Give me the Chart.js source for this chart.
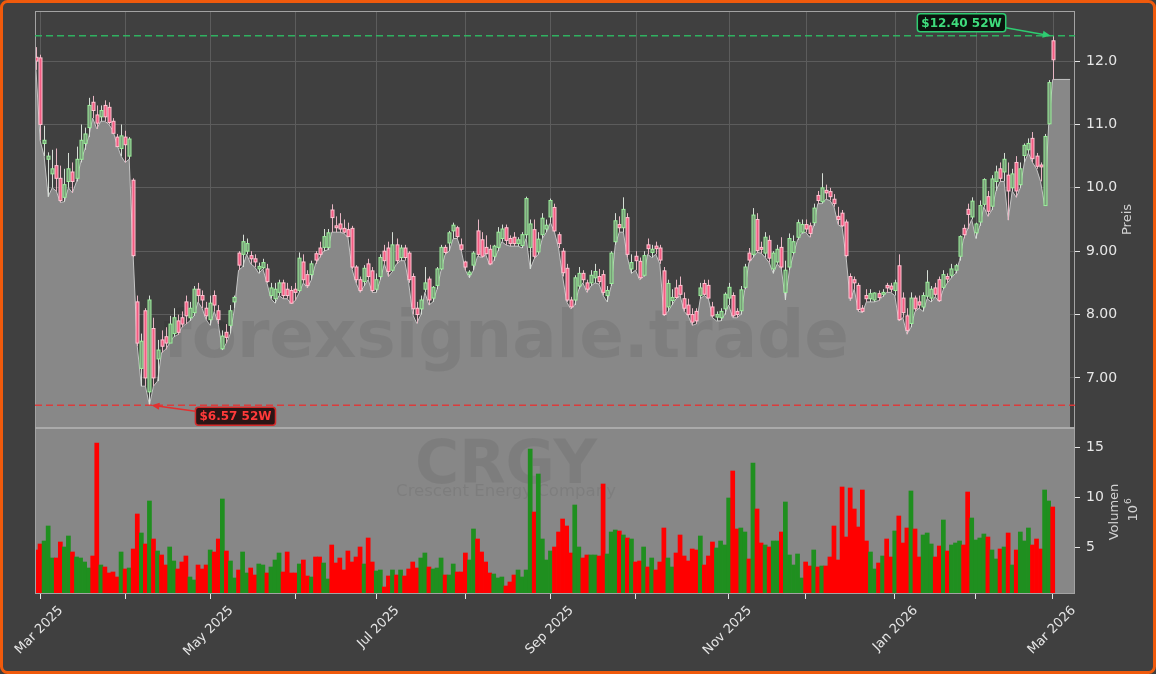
<!DOCTYPE html>
<html>
<head>
<meta charset="utf-8">
<script src="https://cdn.jsdelivr.net/npm/chart.js@4.4.1/dist/chart.umd.min.js"></script>
<style>
  html, body { margin: 0; padding: 0; background: #404040; }
  canvas { display: block; }
</style>
</head>
<body>
<canvas id="chart" width="1156" height="674"></canvas>
<script>
// CRGY Tageskerzen, 28.02.2025 bis 02.03.2026
var open = [
  12.06, 12.05, 10.7, 10.45, 10.22, 10.35, 10.15, 9.85, 10.1, 10.25,
  10.15, 10.45, 10.7, 10.95, 11.35, 11.15, 11.12, 11.3, 11.27, 11.05,
  10.8, 10.62, 10.8, 10.5, 10.12, 8.2, 7.15, 8.06, 6.78, 7.78,
  7.3, 7.6, 7.65, 7.55, 7.7, 7.9, 7.95, 8.2, 7.95, 8.03,
  8.4, 8.3, 8.1, 7.92, 8.3, 8.06, 7.46, 7.72, 7.83, 8.2,
  8.97, 8.95, 9.0, 8.93, 8.88, 8.72, 8.74, 8.72, 8.3, 8.25,
  8.35, 8.5, 8.4, 8.38, 8.4, 8.38, 8.83, 8.63, 8.63, 8.96,
  9.05, 9.06, 9.06, 9.65, 9.4, 9.43, 9.36, 9.34, 9.36, 8.75,
  8.55, 8.52, 8.8, 8.69, 8.4, 8.6, 9.0, 9.05, 8.7, 9.1,
  8.9, 9.05, 8.97, 8.6, 8.1, 8.09, 8.4, 8.56, 8.26, 8.46,
  8.72, 9.06, 9.13, 9.32, 9.37, 9.1, 8.83, 8.63, 8.78, 9.32,
  9.18, 9.06, 9.03, 8.92, 9.06, 9.2, 9.37, 9.2, 9.22, 9.12,
  9.09, 9.26, 9.06, 9.34, 8.99, 9.26, 9.35, 9.54, 9.69, 9.26,
  9.0, 8.73, 8.23, 8.23, 8.45, 8.65, 8.5, 8.5, 8.58, 8.6,
  8.63, 8.3, 8.49, 9.15, 9.42, 9.37, 9.53, 8.72, 8.92, 8.84,
  8.62, 9.1, 8.98, 9.08, 9.05, 8.69, 8.12, 8.22, 8.42, 8.46,
  8.25, 8.15, 8.0, 8.05, 8.3, 8.49, 8.46, 8.12, 7.96, 7.95,
  8.09, 8.26, 8.3, 8.05, 8.06, 8.43, 8.97, 8.95, 9.5, 9.06,
  8.97, 9.17, 8.72, 8.83, 9.06, 8.35, 8.75, 8.98, 9.22, 9.3,
  9.42, 9.4, 9.45, 9.88, 9.78, 9.96, 9.94, 9.82, 9.55, 9.6,
  9.46, 8.6, 8.55, 8.46, 8.1, 8.3, 8.25, 8.23, 8.33, 8.32,
  8.46, 8.45, 8.38, 8.77, 8.26, 7.98, 7.86, 8.26, 8.2, 8.12,
  8.29, 8.26, 8.42, 8.55, 8.43, 8.6, 8.62, 8.7, 8.92, 9.36,
  9.66, 9.54, 9.29, 9.46, 9.74, 9.86, 9.71, 10.1, 10.3, 10.25,
  10.2, 10.0, 10.4, 10.05, 10.51, 10.6, 10.78, 10.5, 10.36, 9.72,
  11.01, 12.32
];
var high = [
  12.22, 12.1, 10.98, 10.56, 10.6, 10.62, 10.35, 10.3, 10.55, 10.4,
  10.65, 11.0, 10.95, 11.42, 11.45, 11.3, 11.3, 11.38, 11.35, 11.1,
  10.85, 11.0, 10.9, 10.8, 10.15, 8.3, 7.7, 8.1, 8.3, 7.95,
  7.6, 7.75, 7.8, 7.98, 8.1, 8.0, 8.05, 8.3, 8.2, 8.45,
  8.5, 8.38, 8.2, 8.3, 8.38, 8.15, 7.75, 7.85, 8.15, 8.3,
  9.0, 9.26, 9.2, 9.0, 8.95, 8.82, 8.88, 8.8, 8.5, 8.5,
  8.55, 8.55, 8.5, 8.45, 8.5, 8.98, 8.95, 8.7, 8.85, 9.0,
  9.15, 9.35, 9.35, 9.74, 9.55, 9.6, 9.5, 9.45, 9.4, 8.78,
  8.6, 8.78, 8.88, 8.75, 8.65, 8.95, 9.1, 9.15, 9.3, 9.2,
  9.1, 9.1, 9.0, 8.65, 8.2, 8.3, 8.75, 8.6, 8.45, 8.75,
  9.1, 9.1, 9.32, 9.45, 9.4, 9.2, 8.85, 8.7, 9.0, 9.5,
  9.3, 9.25, 9.1, 9.1, 9.38, 9.42, 9.42, 9.25, 9.3, 9.22,
  9.3, 9.86, 9.5, 9.5, 9.3, 9.6, 9.5, 9.83, 9.75, 9.3,
  9.05, 8.8, 8.28, 8.62, 8.75, 8.7, 8.55, 8.7, 8.8, 8.72,
  8.7, 8.45, 9.0, 9.6, 9.55, 9.85, 9.6, 8.95, 9.0, 8.9,
  9.0, 9.2, 9.1, 9.15, 9.1, 8.75, 8.55, 8.4, 8.55, 8.6,
  8.35, 8.25, 8.1, 8.1, 8.5, 8.55, 8.55, 8.2, 8.05, 8.1,
  8.35, 8.5, 8.35, 8.1, 8.45, 8.8, 9.05, 9.68, 9.6, 9.15,
  9.3, 9.25, 9.0, 9.1, 9.22, 8.85, 9.28, 9.25, 9.5, 9.5,
  9.5, 9.45, 9.75, 9.95, 10.23, 10.05, 10.0, 9.9, 9.7, 9.65,
  9.5, 8.65, 8.6, 8.5, 8.15, 8.4, 8.4, 8.35, 8.38, 8.4,
  8.5, 8.5, 8.55, 8.95, 8.35, 8.1, 8.35, 8.3, 8.3, 8.35,
  8.7, 8.45, 8.5, 8.6, 8.7, 8.65, 8.8, 8.8, 9.25, 9.42,
  9.75, 9.85, 9.45, 9.8, 10.15, 9.95, 10.2, 10.35, 10.4, 10.55,
  10.4, 10.3, 10.5, 10.4, 10.7, 10.78, 10.88, 10.55, 10.4, 10.85,
  11.7, 12.4
];
var low = [
  11.86, 10.75, 10.5, 9.86, 10.0, 9.95, 9.77, 9.78, 10.0, 9.92,
  10.1, 10.4, 10.6, 10.8, 11.1, 10.93, 11.05, 11.05, 11.0, 10.9,
  10.68, 10.5, 10.4, 10.45, 8.9, 7.5, 6.87, 6.87, 6.57, 6.87,
  6.95, 7.4, 7.45, 7.55, 7.65, 7.68, 7.8, 7.85, 7.9, 7.98,
  8.2, 8.1, 7.92, 7.83, 8.05, 7.85, 7.44, 7.55, 7.7, 8.1,
  8.7, 8.75, 8.95, 8.8, 8.75, 8.65, 8.72, 8.5, 8.25, 8.18,
  8.3, 8.25, 8.25, 8.17, 8.22, 8.35, 8.5, 8.42, 8.55, 8.8,
  8.9, 9.0, 9.02, 9.3, 9.3, 9.3, 9.28, 9.22, 8.72, 8.5,
  8.35, 8.45, 8.55, 8.35, 8.35, 8.55, 8.8, 8.6, 8.68, 8.8,
  8.85, 8.85, 8.5, 8.0, 7.86, 8.0, 8.35, 8.15, 8.2, 8.4,
  8.7, 8.95, 9.0, 9.2, 9.2, 9.0, 8.7, 8.58, 8.7, 8.92,
  8.9, 8.95, 8.78, 8.85, 9.0, 9.15, 9.1, 9.08, 9.08, 9.08,
  9.05, 9.2, 8.72, 8.88, 8.95, 9.2, 9.3, 9.45, 9.3, 9.05,
  8.6, 8.2, 8.09, 8.15, 8.4, 8.5, 8.35, 8.45, 8.5, 8.48,
  8.3, 8.2, 8.45, 9.1, 9.3, 9.3, 8.9, 8.65, 8.7, 8.55,
  8.6, 8.95, 8.9, 8.95, 8.8, 7.98, 8.05, 8.15, 8.25, 8.3,
  8.05, 7.98, 7.83, 7.85, 8.25, 8.3, 8.25, 7.95, 7.9, 7.9,
  8.0, 8.15, 7.95, 7.95, 8.0, 8.4, 8.82, 8.9, 8.98, 8.97,
  8.9, 8.82, 8.65, 8.8, 8.72, 8.23, 8.7, 8.95, 9.18, 9.28,
  9.3, 9.22, 9.4, 9.75, 9.75, 9.82, 9.8, 9.7, 9.42, 9.38,
  8.9, 8.22, 8.4, 8.05, 8.03, 8.2, 8.2, 8.2, 8.22, 8.28,
  8.35, 8.35, 8.3, 7.9, 7.95, 7.69, 7.8, 8.05, 8.1, 8.05,
  8.25, 8.2, 8.28, 8.2, 8.4, 8.5, 8.58, 8.65, 8.85, 9.2,
  9.35, 9.5, 9.2, 9.4, 9.7, 9.55, 9.65, 9.95, 10.1, 10.1,
  9.49, 9.95, 9.85, 10.0, 10.4, 10.55, 10.4, 10.3, 10.1, 9.72,
  11.0, 11.71
];
var close = [
  12.0, 11.0, 10.75, 10.5, 10.3, 10.15, 9.8, 10.05, 10.3, 10.1,
  10.45, 10.75, 10.85, 11.3, 11.22, 11.02, 11.22, 11.12, 11.03, 10.86,
  10.65, 10.82, 10.68, 10.77, 8.93, 7.55, 7.58, 7.0, 8.23, 7.0,
  7.44, 7.5, 7.55, 7.85, 7.95, 7.72, 7.85, 7.98, 8.1, 8.4,
  8.3, 8.23, 7.98, 8.18, 8.15, 7.92, 7.66, 7.64, 8.06, 8.27,
  8.78, 9.15, 9.12, 8.88, 8.83, 8.76, 8.82, 8.52, 8.42, 8.4,
  8.5, 8.3, 8.3, 8.18, 8.35, 8.89, 8.55, 8.46, 8.8, 8.86,
  8.95, 9.23, 9.29, 9.53, 9.37, 9.35, 9.3, 9.23, 8.75, 8.55,
  8.38, 8.73, 8.6, 8.38, 8.55, 8.9, 8.85, 8.68, 9.1, 8.85,
  9.05, 8.9, 8.55, 8.09, 8.0, 8.23, 8.5, 8.23, 8.43, 8.72,
  9.06, 8.98, 9.29, 9.41, 9.23, 9.03, 8.75, 8.67, 8.97, 8.95,
  8.92, 8.96, 8.8, 9.08, 9.3, 9.35, 9.17, 9.12, 9.12, 9.18,
  9.26, 9.83, 9.43, 8.92, 9.19, 9.52, 9.41, 9.8, 9.32, 9.12,
  8.66, 8.23, 8.12, 8.58, 8.65, 8.55, 8.4, 8.62, 8.68, 8.52,
  8.35, 8.38, 8.97, 9.48, 9.37, 9.66, 8.95, 8.82, 8.85, 8.58,
  8.93, 9.04, 9.03, 9.04, 8.86, 8.0, 8.49, 8.27, 8.27, 8.32,
  8.1, 8.0, 7.88, 7.9, 8.42, 8.32, 8.26, 7.98, 8.0, 8.05,
  8.32, 8.43, 7.98, 8.0, 8.39, 8.75, 8.86, 9.57, 9.01, 9.03,
  9.22, 8.89, 8.97, 9.03, 8.75, 8.7, 9.2, 9.15, 9.45, 9.42,
  9.35, 9.28, 9.68, 9.8, 10.0, 9.92, 9.86, 9.75, 9.5, 9.4,
  8.93, 8.26, 8.5, 8.08, 8.05, 8.25, 8.33, 8.34, 8.27, 8.35,
  8.42, 8.4, 8.5, 7.92, 8.03, 7.75, 8.26, 8.09, 8.15, 8.3,
  8.51, 8.4, 8.32, 8.22, 8.63, 8.56, 8.72, 8.77, 9.23, 9.26,
  9.58, 9.79, 9.43, 9.72, 10.13, 9.63, 10.14, 10.25, 10.15, 10.45,
  9.95, 10.22, 9.95, 10.3, 10.67, 10.7, 10.46, 10.34, 10.33, 10.81,
  11.66, 12.02
];
// Volumen in Mio. Stück
var volume = [
  4.7, 5.3, 5.6, 7.1, 3.9, 3.9, 5.5, 5.0, 6.1, 4.5,
  4.0, 3.9, 3.5, 2.9, 4.1, 15.4, 3.2, 3.0, 2.4, 2.5,
  2.0, 4.5, 2.8, 2.9, 4.8, 8.3, 6.4, 5.3, 9.6, 5.8,
  4.6, 4.2, 3.2, 5.0, 3.6, 2.8, 3.5, 4.1, 2.0, 1.7,
  3.2, 2.8, 3.2, 4.7, 4.5, 5.8, 9.8, 4.6, 3.6, 1.9,
  2.7, 4.5, 2.4, 2.9, 2.2, 3.3, 3.2, 2.4, 3.0, 3.7,
  4.4, 2.5, 4.5, 2.4, 2.4, 3.3, 3.7, 2.1, 2.0, 4.0,
  4.0, 3.4, 1.8, 5.2, 3.4, 3.9, 2.7, 4.6, 3.5, 4.0,
  5.0, 3.3, 5.9, 3.5, 2.6, 2.7, 1.0, 2.1, 2.7, 2.2,
  2.7, 2.1, 2.8, 3.5, 2.9, 3.9, 4.4, 3.0, 2.8, 2.9,
  3.9, 2.2, 2.2, 3.3, 2.5, 2.5, 4.4, 3.7, 6.8, 5.8,
  4.5, 3.5, 2.4, 2.3, 1.9, 2.0, 1.1, 1.5, 2.2, 2.7,
  2.0, 2.7, 14.8, 8.5, 12.3, 5.8, 3.7, 4.6, 5.0, 6.5,
  7.8, 7.1, 4.4, 9.2, 5.0, 3.9, 4.2, 4.2, 4.2, 4.1,
  11.3, 4.3, 6.5, 6.7, 6.6, 6.2, 5.9, 5.8, 3.5, 3.6,
  5.0, 3.0, 3.9, 2.7, 3.5, 6.9, 3.9, 3.0, 4.4, 6.2,
  4.1, 3.6, 4.8, 4.7, 6.1, 3.2, 4.1, 5.5, 4.9, 5.6,
  5.2, 9.9, 12.6, 6.8, 6.9, 6.5, 3.8, 13.4, 8.8, 5.4,
  5.2, 5.0, 5.6, 5.6, 6.5, 9.5, 4.2, 3.2, 4.3, 1.9,
  3.5, 3.1, 4.7, 3.0, 3.1, 3.1, 4.0, 7.1, 3.7, 11.0,
  6.0, 10.9, 8.8, 7.0, 10.7, 5.6, 4.5, 2.8, 3.4, 4.1,
  5.8, 4.0, 6.6, 8.1, 5.4, 6.9, 10.6, 6.8, 4.0, 6.2,
  6.4, 5.3, 4.0, 5.1, 7.7, 4.6, 5.2, 5.4, 5.6, 5.2,
  10.5, 7.9, 5.7, 5.9, 6.3, 6.0, 4.7, 3.8, 4.8, 5.0,
  6.4, 3.2, 4.7, 6.5, 5.6, 6.9, 5.2, 5.8, 4.8, 10.7,
  9.6, 9.0
];
var priceTicks = [7, 8, 9, 10, 11, 12];
var volTicks = [5, 10, 15];
var monthNames = ['Jan', 'Feb', 'Mar', 'Apr', 'May', 'Jun', 'Jul', 'Aug', 'Sep', 'Oct', 'Nov', 'Dec'];
var holidays = ['2025-04-18', '2025-05-26', '2025-06-19', '2025-07-04', '2025-09-01',
                '2025-11-27', '2025-12-25', '2026-01-01', '2026-01-19', '2026-02-16'];
var high52 = 12.40, low52 = 6.57;

// Handelstage erzeugen
function tradingDays(start, n) {
  var out = [];
  var d = new Date(start + 'T12:00:00Z');
  while (out.length < n) {
    var wd = d.getUTCDay();
    var s = d.toISOString().slice(0, 10);
    if (wd !== 0 && wd !== 6 && holidays.indexOf(s) < 0) out.push(s);
    d.setUTCDate(d.getUTCDate() + 1);
  }
  return out;
}
var dates = tradingDays('2025-02-28', close.length);

var monthTicks = [];
for (var i = 1; i < dates.length; i++) {
  if (dates[i].slice(0, 7) !== dates[i - 1].slice(0, 7)) {
    var m = parseInt(dates[i].slice(5, 7), 10) - 1;
    monthTicks.push({ value: i, label: m % 2 === 0 ? monthNames[m] + ' ' + dates[i].slice(0, 4) : '' });
  }
}

var last = close.length - 1;
var areaData = low.map(function (v, i) { return { x: i, y: v }; });
areaData.push({ x: last + 4.3, y: low[last] });
var volData = volume.map(function (v, i) { return { x: i, y: v }; });
var volColors = close.map(function (c, i) { return c >= open[i] ? '#1f8f1f' : '#ff0000'; });

var FONT = 'DejaVu Sans';

function drawCandles(chart) {
  var ctx = chart.ctx, xs = chart.scales.x, ys = chart.scales.y;
  ctx.save();
  ctx.beginPath();
  ctx.rect(xs.left, ys.top, xs.width, ys.height);
  ctx.clip();
  for (var i = 0; i < close.length; i++) {
    var x = Math.round(xs.getPixelForValue(i)) + 0.5;
    var up = close[i] >= open[i];
    var yH = ys.getPixelForValue(high[i]), yL = ys.getPixelForValue(low[i]);
    var yO = ys.getPixelForValue(open[i]), yC = ys.getPixelForValue(close[i]);
    ctx.lineWidth = 1;
    ctx.strokeStyle = up ? '#d6ded6' : '#e8b6c4';
    ctx.beginPath(); ctx.moveTo(x, yH); ctx.lineTo(x, yL); ctx.stroke();
    var top = Math.min(yO, yC), h = Math.max(Math.abs(yO - yC), 1.5);
    ctx.fillStyle = up ? '#7a9c7a' : '#f25c82';
    ctx.fillRect(x - 1.5, top, 3, h);
    ctx.strokeStyle = up ? '#9af09a' : '#ffc4d2';
    ctx.strokeRect(x - 1.5, top, 3, h);
  }
  ctx.restore();
}

function arrow(ctx, x1, y1, x2, y2, color) {
  var a = Math.atan2(y2 - y1, x2 - x1);
  ctx.strokeStyle = color; ctx.fillStyle = color; ctx.lineWidth = 1.5;
  ctx.beginPath(); ctx.moveTo(x1, y1); ctx.lineTo(x2 - 6 * Math.cos(a), y2 - 6 * Math.sin(a)); ctx.stroke();
  ctx.beginPath();
  ctx.moveTo(x2, y2);
  ctx.lineTo(x2 - 8 * Math.cos(a) + 3.5 * Math.sin(a), y2 - 8 * Math.sin(a) - 3.5 * Math.cos(a));
  ctx.lineTo(x2 - 8 * Math.cos(a) - 3.5 * Math.sin(a), y2 - 8 * Math.sin(a) + 3.5 * Math.cos(a));
  ctx.closePath(); ctx.fill();
}

function labelBox(ctx, text, left, cy, textColor, border, bg) {
  ctx.font = 'bold 12px ' + FONT;
  var w = ctx.measureText(text).width + 8, h = 18;
  ctx.fillStyle = bg;
  ctx.strokeStyle = border; ctx.lineWidth = 1.5;
  ctx.beginPath(); ctx.roundRect(left, cy - h / 2, w, h, 3); ctx.fill(); ctx.stroke();
  ctx.fillStyle = textColor; ctx.textAlign = 'left'; ctx.textBaseline = 'middle';
  ctx.fillText(text, left + 4, cy + 1);
  return w;
}

function fitText(ctx, text, weight, width) {
  ctx.font = weight + ' 100px ' + FONT;
  return 100 * width / ctx.measureText(text).width;
}

function noPad(s) {
  s.paddingLeft = 0; s.paddingRight = 0; s.paddingTop = 0; s.paddingBottom = 0;
}

var panelPlugin = {
  id: 'panels',
  beforeDraw: function (chart) {
    var ctx = chart.ctx;
    ctx.save();
    ctx.fillStyle = '#404040';
    ctx.fillRect(0, 0, chart.width, chart.height);
    ctx.restore();
  },
  beforeDatasetsDraw: function (chart) {
    var ctx = chart.ctx, xs = chart.scales.x, ys = chart.scales.y, yv = chart.scales.yv;
    ctx.save();
    // Monatsraster im Kurs-Panel
    ctx.strokeStyle = '#5c5c5c'; ctx.lineWidth = 1;
    monthTicks.forEach(function (t) {
      var x = Math.round(xs.getPixelForValue(t.value)) + 0.5;
      ctx.beginPath(); ctx.moveTo(x, ys.top); ctx.lineTo(x, ys.bottom); ctx.stroke();
    });
    // Volumen-Panel
    ctx.fillStyle = '#878787';
    ctx.fillRect(xs.left, yv.top, xs.width, yv.height);
    ctx.restore();
  },
  afterDatasetDraw: function (chart, args) {
    if (args.index !== 0) return;
    var ctx = chart.ctx, xs = chart.scales.x;
    var cx = xs.left + 471;
    ctx.save();
    ctx.fillStyle = 'rgba(0,0,0,0.07)';
    ctx.textAlign = 'center'; ctx.textBaseline = 'alphabetic';
    var s1 = fitText(ctx, 'forexsignale.trade', 'bold', 686);
    ctx.font = 'bold ' + s1 + 'px ' + FONT;
    ctx.fillText('forexsignale.trade', cx, 357);
    var s2 = fitText(ctx, 'CRGY', 'bold', 182);
    ctx.font = 'bold ' + s2 + 'px ' + FONT;
    ctx.fillText('CRGY', cx, 483);
    var s3 = fitText(ctx, 'Crescent Energy Company', 'normal', 220);
    ctx.font = s3 + 'px ' + FONT;
    ctx.fillText('Crescent Energy Company', cx, 496);
    ctx.restore();
  },
  afterDatasetsDraw: function (chart) {
    var ctx = chart.ctx, xs = chart.scales.x, ys = chart.scales.y, yv = chart.scales.yv;
    drawCandles(chart);
    ctx.save();
    // Rahmen
    ctx.strokeStyle = '#a3a3a3'; ctx.lineWidth = 1;
    ctx.strokeRect(xs.left + 0.5, ys.top + 0.5, xs.width - 1, yv.bottom - ys.top - 1);
    ctx.strokeStyle = '#aaaaaa'; ctx.lineWidth = 2;
    ctx.beginPath(); ctx.moveTo(xs.left, yv.top); ctx.lineTo(xs.right, yv.top); ctx.stroke();

    // 52-Wochen-Linien
    ctx.lineWidth = 1.6; ctx.setLineDash([7, 4]);
    var yHi = ys.getPixelForValue(high52), yLo = ys.getPixelForValue(low52);
    ctx.strokeStyle = 'rgba(46,190,100,0.9)';
    ctx.beginPath(); ctx.moveTo(xs.left, yHi); ctx.lineTo(xs.right, yHi); ctx.stroke();
    ctx.strokeStyle = 'rgba(228,52,52,0.9)';
    ctx.beginPath(); ctx.moveTo(xs.left, yLo); ctx.lineTo(xs.right, yLo); ctx.stroke();
    ctx.setLineDash([]);

    // Beschriftungen Hoch/Tief
    var iHi = high.indexOf(high52), iLo = low.indexOf(low52);
    var pxHi = xs.getPixelForValue(iHi), pxLo = xs.getPixelForValue(iLo);
    ctx.font = 'bold 12px ' + FONT;
    var wHi = ctx.measureText('$12.40 52W').width + 8;
    var boxL = pxHi - 47 - wHi;
    labelBox(ctx, '$' + high52.toFixed(2) + ' 52W', boxL, yHi - 13, '#3fdc7c', '#2ecc71', '#0b130d');
    arrow(ctx, pxHi - 47, yHi - 8, pxHi - 2, yHi, '#2ecc71');
    labelBox(ctx, '$' + low52.toFixed(2) + ' 52W', pxLo + 46, yLo + 11, '#ff3a3a', '#d42a2a', '#2a1515');
    arrow(ctx, pxLo + 46, yLo + 6, pxLo + 2, yLo, '#e33030');
    ctx.restore();
  },
  afterDraw: function (chart) {
    var ctx = chart.ctx, ys = chart.scales.y;
    ctx.save();
    ctx.fillStyle = '#d2d2d2';
    ctx.textAlign = 'center'; ctx.textBaseline = 'middle';
    ctx.font = '13px ' + FONT;
    ctx.translate(1128, (ys.top + ys.bottom) / 2);
    ctx.rotate(-Math.PI / 2);
    ctx.fillText('Preis', 0, 0);
    ctx.restore();

    ctx.save();
    ctx.fillStyle = '#d2d2d2';
    ctx.textAlign = 'center'; ctx.textBaseline = 'middle';
    ctx.font = '13px ' + FONT;
    ctx.translate(1115, 512);
    ctx.rotate(-Math.PI / 2);
    ctx.fillText('Volumen', 0, 0);
    ctx.restore();

    ctx.save();
    ctx.fillStyle = '#d2d2d2';
    ctx.textBaseline = 'middle';
    ctx.translate(1134, 508);
    ctx.rotate(-Math.PI / 2);
    ctx.font = '13px ' + FONT;
    ctx.textAlign = 'right';
    ctx.fillText('10', 3, 0);
    ctx.font = '9px ' + FONT;
    ctx.textAlign = 'left';
    ctx.fillText('6', 4, -5);
    ctx.restore();

    // orangefarbener Rahmen
    ctx.save();
    ctx.strokeStyle = '#f05a0c'; ctx.lineWidth = 3;
    ctx.beginPath(); ctx.roundRect(1.5, 1.5, chart.width - 3, chart.height - 3, 6); ctx.stroke();
    ctx.restore();
  }
};

var tickFont = { family: FONT, size: 14 };

var ctxChart = document.getElementById('chart');
var myChart = new Chart(ctxChart, {
  type: 'bar',
  data: {
    datasets: [{
      type: 'line',
      label: 'Tief',
      data: areaData,
      yAxisID: 'y',
      fill: 'start',
      backgroundColor: '#888888',
      borderColor: '#c4c4c4',
      borderWidth: 1,
      pointRadius: 0,
      tension: 0,
      order: 2
    }, {
      type: 'bar',
      label: 'Volumen',
      data: volData,
      yAxisID: 'yv',
      backgroundColor: volColors,
      borderWidth: 0,
      barPercentage: 1,
      categoryPercentage: 1,
      order: 1
    }]
  },
  options: {
    responsive: false,
    animation: false,
    devicePixelRatio: 1,
    layout: { padding: { left: 35, top: 11, right: 0, bottom: 0 } },
    plugins: {
      legend: { display: false },
      tooltip: { enabled: false }
    },
    scales: {
      x: {
        type: 'linear',
        min: -0.25,
        max: 256.5,
        offset: false,
        afterBuildTicks: function (s) { s.ticks = monthTicks.map(function (t) { return { value: t.value }; }); },
        afterFit: function (s) { s.height = 80; noPad(s); },
        ticks: {
          autoSkip: false,
          maxRotation: 45,
          minRotation: 45,
          color: '#e6e6e6',
          font: { family: FONT, size: 13 },
          padding: 4,
          labelOffset: 21,
          callback: function (v) {
            for (var k = 0; k < monthTicks.length; k++) if (monthTicks[k].value === v) return monthTicks[k].label;
            return '';
          }
        },
        grid: { drawOnChartArea: false, tickColor: '#e6e6e6', tickLength: 5, offset: false },
        border: { display: false }
      },
      y: {
        type: 'linear',
        position: 'right',
        stack: 'panels',
        stackWeight: 417,
        min: 6.21,
        max: 12.79,
        afterBuildTicks: function (s) { s.ticks = priceTicks.map(function (v) { return { value: v }; }); },
        afterFit: function (s) { s.width = 81; noPad(s); },
        ticks: {
          color: '#e6e6e6',
          font: tickFont,
          padding: 6,
          callback: function (v) { return v >= 10 ? v.toFixed(1) : v.toFixed(2); }
        },
        grid: { color: '#5c5c5c', lineWidth: 1, tickColor: '#e6e6e6', tickLength: 5 },
        border: { display: false }
      },
      yv: {
        type: 'linear',
        position: 'right',
        stack: 'panels',
        stackWeight: 166,
        min: 0.3,
        max: 16.9,
        afterBuildTicks: function (s) { s.ticks = volTicks.map(function (v) { return { value: v }; }); },
        afterFit: function (s) { s.width = 81; noPad(s); },
        ticks: {
          color: '#e6e6e6',
          font: tickFont,
          padding: 6,
          callback: function (v) { return String(v); }
        },
        grid: { drawOnChartArea: false, tickColor: '#e6e6e6', tickLength: 5 },
        border: { display: false }
      }
    }
  },
  plugins: [panelPlugin]
});
</script>
</body>
</html>
